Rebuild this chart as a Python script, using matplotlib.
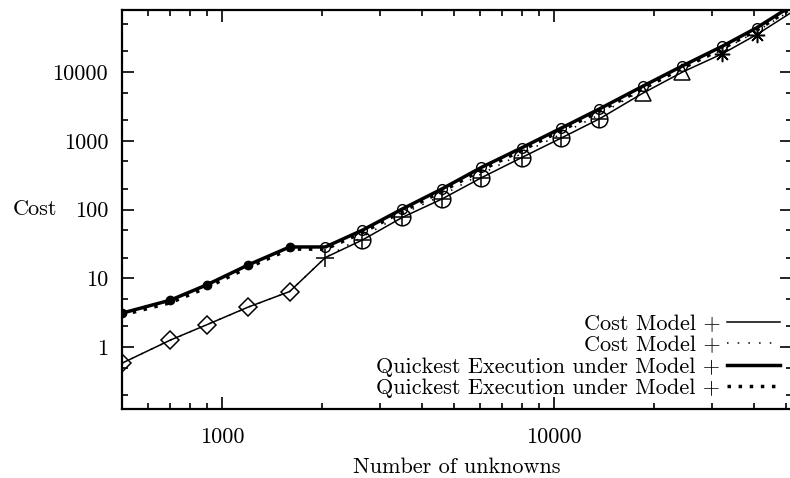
import matplotlib
matplotlib.use("Agg")
import matplotlib.pyplot as plt
from matplotlib.lines import Line2D
from matplotlib.ticker import LogLocator, FuncFormatter, NullFormatter

plt.rcParams["font.family"] = ["cmr10", "DejaVu Serif"]
plt.rcParams["axes.formatter.use_mathtext"] = True

# ── data ─────────────────────────────────────────────────────────────────────
n = [500, 700, 900, 1200, 1600, 2050, 2650, 3500, 4600, 6050, 8000,
     10500, 13700, 18500, 24400, 32200, 40800, 52000]

cost_solid = [0.58, 1.26, 2.1, 3.8, 6.4, 20, 36, 77, 142, 290, 570,
              1090, 2080, 4900, 10000, 18500, 35000, 74000]
cost_dotted = [0.58, 1.26, 2.1, 3.8, 6.4, 20, 40, 86, 160, 330, 650,
               1250, 2400, 5500, 11200, 21000, 39000, 80000]
quick_solid = [3.1, 4.8, 8.0, 15.6, 28.5, 28.5, 50, 102, 199, 410, 790,
               1520, 2900, 6200, 12300, 23800, 44000, 92000]
quick_dotted = [2.9, 4.4, 7.3, 14.3, 26.5, 26.5, 46, 94, 183, 375, 725,
                1400, 2680, 5700, 11400, 22000, 40500, 85000]

LABELS = ["Cost Model +", "Cost Model +",
          "Quickest Execution under Model +", "Quickest Execution under Model +"]

# marker groups along the lower curve (index ranges into n)
cost_groups = [(0, 5, "D", 9), (5, 6, "+", 13), (6, 13, "o", 12),
               (6, 13, "+", 11), (13, 15, "^", 11), (15, 17, (8, 2, 0), 11)]

# ── figure ───────────────────────────────────────────────────────────────────
fig = plt.figure(figsize=(7.9, 4.78), dpi=100)
ax = fig.add_axes([0.1544, 0.1444, 0.8475, 0.8346])

ax.plot(n, cost_solid, color="black", lw=1.1, label=LABELS[0], zorder=3)
ax.plot(n, cost_dotted, color="black", lw=1.1, dashes=(1, 6), label=LABELS[1], zorder=3)
ax.plot(n, quick_solid, color="black", lw=2.5, label=LABELS[2], zorder=3)
ax.plot(n, quick_dotted, color="black", lw=2.5, dashes=(1, 2.2), label=LABELS[3], zorder=3)

for i0, i1, m, s in cost_groups:
    ax.plot(n[i0:i1], cost_solid[i0:i1], ls="none", marker=m, ms=s,
            mfc="none", mec="black", mew=1.1, zorder=4)
ax.plot(n[0:5], quick_solid[0:5], ls="none", marker="o", ms=6,
        color="black", zorder=4)
ax.plot(n[5:17], quick_solid[5:17], ls="none", marker="o", ms=7,
        mfc="none", mec="black", mew=1.0, zorder=4)

ax.set_xscale("log")
ax.set_yscale("log")
ax.set_xlim(500, 52000)
ax.set_ylim(0.125, 80000)

ax.xaxis.set_major_locator(LogLocator(base=10, numticks=10))
ax.xaxis.set_minor_locator(LogLocator(base=10, subs=range(2, 10), numticks=20))
ax.yaxis.set_major_locator(LogLocator(base=10, numticks=12))
ax.yaxis.set_minor_locator(LogLocator(base=10, subs=(2, 5), numticks=20))
fmt = FuncFormatter(lambda v, _: f"{v:g}" if v >= 1 else "")
ax.xaxis.set_major_formatter(fmt)
ax.yaxis.set_major_formatter(fmt)
ax.xaxis.set_minor_formatter(NullFormatter())
ax.yaxis.set_minor_formatter(NullFormatter())

ax.tick_params(which="both", direction="in", top=True, right=True,
               width=1.2, labelsize=16)
ax.tick_params(which="major", length=8.5)
ax.tick_params(which="minor", length=4.3)
ax.tick_params(axis="x", pad=13)
ax.tick_params(axis="y", pad=10)
for sp in ax.spines.values():
    sp.set_linewidth(1.6)

ax.set_xlabel("Number of unknowns", fontsize=16, labelpad=8)
ax.set_ylabel("Cost", fontsize=16, rotation=0, ha="right", va="center")
ax.yaxis.set_label_coords(-0.097, 0.5)

handles = [Line2D([], [], color="black", lw=1.1),
           Line2D([], [], color="black", lw=1.1, dashes=(1, 6)),
           Line2D([], [], color="black", lw=2.5),
           Line2D([], [], color="black", lw=2.5, dashes=(1, 2.2))]
ax.legend(handles, LABELS, loc="lower right", frameon=False, markerfirst=False,
          fontsize=16, handlelength=2.4, handletextpad=0.3, labelspacing=0.08,
          borderaxespad=0.2, borderpad=0.3)

fig.savefig("out.png", dpi=100)
